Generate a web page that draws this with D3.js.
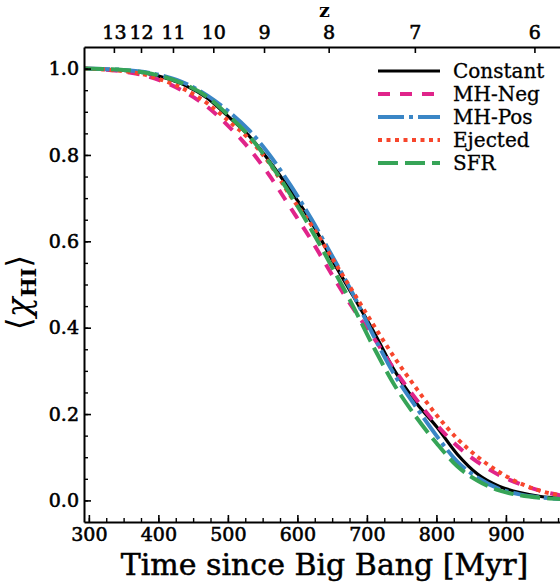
<!DOCTYPE html>
<html>
<head>
<meta charset="utf-8">
<script src="https://cdn.jsdelivr.net/npm/d3@7"></script>
<style>
body { margin: 0; background: #fff; }
svg { display: block; }
</style>
</head>
<body>
<div id="chart"></div>
<script>
// time grid (Myr) and neutral fraction for each model
var times    = [293, 320, 350, 380, 410, 440, 470, 500, 530, 560, 590, 620, 650, 680, 710, 740, 770, 800, 830, 860, 890, 920, 950, 980];
var constant = [1.000, 0.999, 0.996, 0.990, 0.978, 0.960, 0.932, 0.890, 0.845, 0.785, 0.718, 0.645, 0.557, 0.474, 0.390, 0.300, 0.228, 0.171, 0.107, 0.060, 0.033, 0.018, 0.009, 0.005];
var mhNeg    = [1.000, 0.998, 0.993, 0.984, 0.968, 0.944, 0.912, 0.868, 0.816, 0.752, 0.678, 0.603, 0.522, 0.445, 0.376, 0.302, 0.236, 0.176, 0.126, 0.088, 0.059, 0.038, 0.022, 0.011];
var mhPos    = [1.000, 0.999, 0.997, 0.992, 0.982, 0.965, 0.938, 0.902, 0.858, 0.800, 0.730, 0.652, 0.566, 0.478, 0.380, 0.290, 0.218, 0.150, 0.090, 0.052, 0.027, 0.014, 0.007, 0.003];
var ejected  = [1.000, 0.998, 0.994, 0.986, 0.971, 0.950, 0.920, 0.880, 0.838, 0.780, 0.705, 0.638, 0.561, 0.483, 0.405, 0.330, 0.262, 0.198, 0.143, 0.100, 0.066, 0.040, 0.022, 0.011];
var sfr      = [1.000, 0.999, 0.997, 0.991, 0.980, 0.962, 0.935, 0.893, 0.845, 0.782, 0.708, 0.627, 0.540, 0.450, 0.354, 0.266, 0.195, 0.133, 0.079, 0.045, 0.023, 0.012, 0.006, 0.003];

var seriesNames = ["Constant", "MH-Neg", "MH-Pos", "Ejected", "SFR"];

// redshift ticks on the top axis and their times
var zLabels = [13, 12, 11, 10, 9, 8, 7, 6];
var zTimes  = [336, 375, 421, 479, 552, 645, 769, 941];

var xTicks = [300, 400, 500, 600, 700, 800, 900];
var yTicks = [0, 0.2, 0.4, 0.6, 0.8, 1.0];

var width = 560, height = 585;
var margin = {top: 47, right: -5, bottom: 63, left: 84};
var font = "'DejaVu Serif', serif";

var styles = [
	{color: "#000000", width: 3.2, dash: null},
	{color: "#e0248a", width: 4, dash: "12,10"},
	{color: "#3a86c6", width: 4, dash: "26,5,4,5"},
	{color: "#f7462c", width: 4, dash: "4,4.5"},
	{color: "#36a457", width: 4, dash: "20,7"}
];

var values = [constant, mhNeg, mhPos, ejected, sfr];
var series = seriesNames.map((name, i) => ({
	name: name,
	style: styles[i],
	points: times.map((t, j) => ({t: t, v: values[i][j]}))
}));

var svg = d3.select("#chart").append("svg")
	.attr("width", width)
	.attr("height", height);

var x = d3.scaleLinear([293, 985], [margin.left, width - margin.right]);
var y = d3.scaleLinear([-0.05, 1.05], [height - margin.bottom, margin.top]);

svg.append("clipPath").attr("id", "plot")
	.append("rect")
	.attr("x", x.range()[0]).attr("y", margin.top)
	.attr("width", x.range()[1] - x.range()[0])
	.attr("height", height - margin.bottom - margin.top);

var line = d3.line()
	.x(d => x(d.t))
	.y(d => y(d.v))
	.curve(d3.curveMonotoneX);

svg.append("g")
	.attr("clip-path", "url(#plot)")
	.selectAll("path")
	.data(series)
	.join("path")
	.attr("fill", "none")
	.attr("stroke", d => d.style.color)
	.attr("stroke-width", d => d.style.width)
	.attr("stroke-dasharray", d => d.style.dash)
	.attr("d", d => line(d.points));

// axes, ticks pointing inward
function styleAxis(g) {
	g.select(".domain").attr("stroke-width", 2);
	g.selectAll(".tick line").attr("stroke-width", 1.6);
	g.selectAll(".tick text")
		.attr("font-family", font)
		.attr("font-size", 19)
		.attr("stroke", "#000")
		.attr("stroke-width", 0.6);
}

function minorOnly(g) {
	g.select(".domain").remove();
	g.selectAll(".tick text").remove();
	g.selectAll(".tick line").attr("stroke-width", 1.4);
}

svg.append("g")
	.attr("transform", `translate(0,${height - margin.bottom})`)
	.call(d3.axisBottom(x).tickValues(d3.range(300, 985, 25)).tickSizeInner(-4).tickSizeOuter(0))
	.call(minorOnly);

svg.append("g")
	.attr("transform", `translate(0,${height - margin.bottom})`)
	.call(d3.axisBottom(x).tickValues(xTicks).tickSizeInner(-7).tickSizeOuter(0).tickPadding(6))
	.call(styleAxis);

svg.append("g")
	.attr("transform", `translate(${margin.left},0)`)
	.call(d3.axisLeft(y).tickValues(d3.range(0, 21).map(i => i * 0.05)).tickSizeInner(-4).tickSizeOuter(0))
	.call(minorOnly);

svg.append("g")
	.attr("transform", `translate(${margin.left},0)`)
	.call(d3.axisLeft(y).tickValues(yTicks).tickFormat(d3.format(".1f")).tickSizeInner(-7).tickSizeOuter(0).tickPadding(5))
	.call(styleAxis);

var zAxis = d3.axisTop(x)
	.tickValues(zTimes)
	.tickFormat((d, i) => zLabels[i])
	.tickSizeInner(-6).tickSizeOuter(0).tickPadding(8);

svg.append("g")
	.attr("transform", `translate(0,${margin.top})`)
	.call(zAxis)
	.call(styleAxis);

// axis titles
svg.append("text")
	.attr("x", (x.range()[0] + x.range()[1]) / 2)
	.attr("y", 575)
	.attr("text-anchor", "middle")
	.attr("font-family", font)
	.attr("font-size", 30)
	.attr("stroke", "#000")
	.attr("stroke-width", 0.5)
	.text("Time since Big Bang [Myr]");

svg.append("text")
	.attr("x", (x.range()[0] + x.range()[1]) / 2)
	.attr("y", 17)
	.attr("text-anchor", "middle")
	.attr("font-family", font)
	.attr("font-weight", "bold")
	.attr("font-size", 19)
	.text("z");

var ylab = svg.append("text")
	.attr("transform", `translate(30,${(margin.top + height - margin.bottom) / 2 + 8}) rotate(-90)`)
	.attr("text-anchor", "middle")
	.attr("font-family", font)
	.attr("font-size", 33);
ylab.append("tspan").text("\u27e8");
ylab.append("tspan").attr("font-style", "italic").text("\u03c7");
ylab.append("tspan").attr("font-size", 21).attr("font-weight", "bold").attr("dy", 6).text("HI");
ylab.append("tspan").attr("dy", -6).text("\u27e9");

// legend
var legend = svg.append("g")
	.selectAll("g")
	.data(series)
	.join("g")
	.attr("transform", (d, i) => `translate(378,${71 + i * 23})`);

legend.append("line")
	.attr("x1", 0).attr("x2", 62)
	.attr("stroke", d => d.style.color)
	.attr("stroke-width", d => d.style.width)
	.attr("stroke-dasharray", d => d.style.dash);

legend.append("text")
	.attr("x", 75)
	.attr("dy", "0.35em")
	.attr("font-family", font)
	.attr("font-size", 20)
	.attr("stroke", "#000")
	.attr("stroke-width", 0.3)
	.text(d => d.name);
</script>
</body>
</html>
